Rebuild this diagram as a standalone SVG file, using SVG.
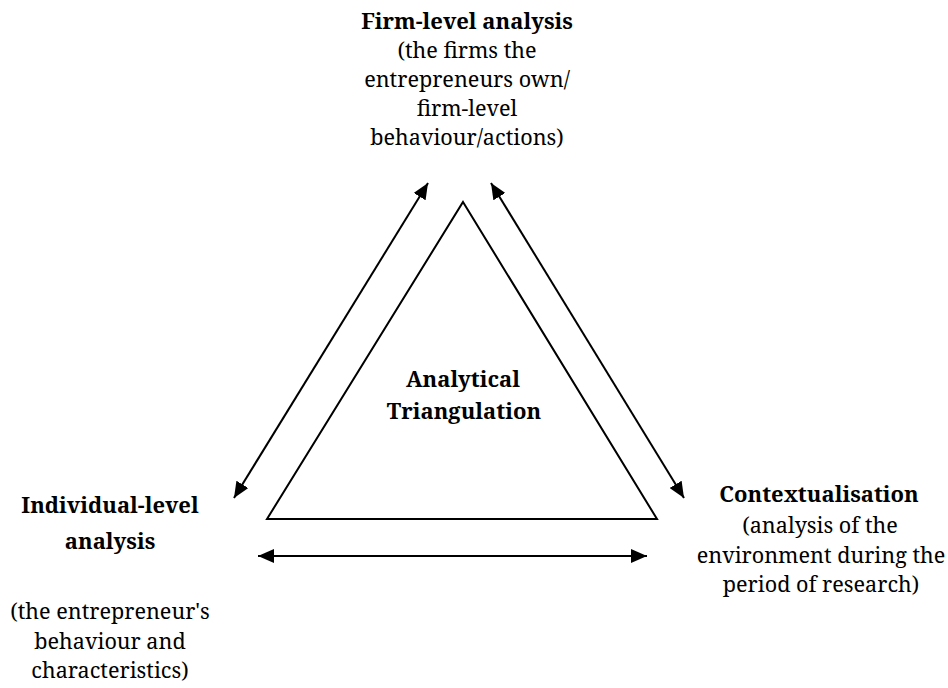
<svg xmlns="http://www.w3.org/2000/svg" width="948" height="688" viewBox="0 0 948 688">
  <defs>
    <style>
      text { font-family: 'Noto Serif', 'DejaVu Serif', serif; font-size: 21.6px; fill: #000; text-anchor: middle; }
      .b { font-weight: bold; font-size: 22px; }
      .edge { stroke: #000; stroke-width: 2; fill: none; }
    </style>
    <marker id="head" viewBox="0 0 16 14" refX="16" refY="7" markerWidth="16" markerHeight="14" markerUnits="userSpaceOnUse" orient="auto-start-reverse">
      <path d="M0,0 L16,7 L0,14 z" fill="#000"/>
    </marker>
  </defs>
  <rect width="948" height="688" fill="#fff"/>

  <g id="triangle">
    <polygon points="463,202 657,519 267,519" fill="none" stroke="#000" stroke-width="2" stroke-linejoin="miter"/>
    <text class="b" x="463" y="387">Analytical</text>
    <text class="b" x="464" y="419">Triangulation</text>
  </g>

  <g id="firm-level">
    <text class="b" x="467" y="29">Firm-level analysis</text>
    <text x="467" y="58">(the firms the</text>
    <text x="467" y="87">entrepreneurs own/</text>
    <text x="467" y="116">firm-level</text>
    <text x="467" y="145">behaviour/actions)</text>
  </g>

  <g id="individual-level">
    <text class="b" x="110" y="513">Individual-level</text>
    <text class="b" x="110" y="549">analysis</text>
    <text x="110" y="619">(the entrepreneur's</text>
    <text x="110" y="649">behaviour and</text>
    <text x="110" y="678">characteristics)</text>
  </g>

  <g id="contextualisation">
    <text class="b" x="819" y="502">Contextualisation</text>
    <text x="820" y="533">(analysis of the</text>
    <text x="821" y="563">environment during the</text>
    <text x="821" y="592">period of research)</text>
  </g>

  <g id="connectors">
    <line class="edge" x1="234" y1="498" x2="428" y2="183" marker-start="url(#head)" marker-end="url(#head)"/>
    <line class="edge" x1="491" y1="183" x2="684" y2="498" marker-start="url(#head)" marker-end="url(#head)"/>
    <line class="edge" x1="258" y1="556" x2="647" y2="556" marker-start="url(#head)" marker-end="url(#head)"/>
  </g>
</svg>
